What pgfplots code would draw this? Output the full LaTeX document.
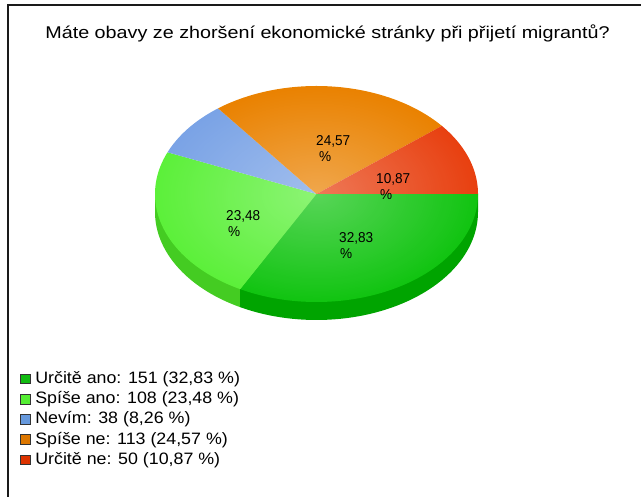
\documentclass[border=0pt]{standalone}
\usepackage{fontspec}
\setmainfont{Liberation Sans}
\newfontfamily\titlefont[FakeStretch=1.162]{Liberation Sans}
\newfontfamily\legfont[FakeStretch=1.08]{Liberation Sans}
\newfontfamily\labfont[FakeStretch=0.95]{Liberation Sans}
\usepackage{pgfplots}
\pgfplotsset{compat=1.18}
\usetikzlibrary{fadings}
\tikzfading[name=piefade, inner color=transparent!70, outer color=transparent!100]
\definecolor{caT}{HTML}{11C411}
\definecolor{cbT}{HTML}{5CF03A}
\definecolor{ccT}{HTML}{7AA3E6}
\definecolor{cdT}{HTML}{EA8200}
\definecolor{ceT}{HTML}{E84010}
\definecolor{caS}{HTML}{00A400}
\definecolor{cbS}{HTML}{44CC22}
\definecolor{lga}{HTML}{11BB11}
\definecolor{lgb}{HTML}{55EE33}
\definecolor{lgc}{HTML}{6699DD}
\definecolor{lgd}{HTML}{DD7700}
\definecolor{lge}{HTML}{DD3300}
\definecolor{framecol}{HTML}{1A1A1A}
\pgfplotsset{legsq/.style={legend image code/.code={\draw[##1, draw=black!80, line width=0.8bp] (0bp,-4.8bp) rectangle (10bp,4.8bp);}}}
% percentages of the five answers
\def\pA{32.83}\def\pB{23.48}\def\pC{8.26}\def\pD{24.57}\def\pE{10.87}
\pgfmathsetmacro\tA{0}
\pgfmathsetmacro\tB{-\pA*3.6}
\pgfmathsetmacro\tC{\tB-\pB*3.6}
\pgfmathsetmacro\tD{\tC-\pC*3.6}
\pgfmathsetmacro\tE{\tD-\pD*3.6}
\pgfmathsetmacro\tF{-360}
\def\cX{316.5}\def\cY{303}\def\rA{161.5}\def\rB{108}\def\dpth{18}
\pgfmathsetmacro\xA{\cX+\rA*cos(\tA)}\pgfmathsetmacro\yA{\cY+\rB*sin(\tA)}
\pgfmathsetmacro\xB{\cX+\rA*cos(\tB)}\pgfmathsetmacro\yB{\cY+\rB*sin(\tB)}
\pgfmathsetmacro\xH{\cX+\rA*cos(-180)}\pgfmathsetmacro\yH{\cY+\rB*sin(-180)}
\begin{document}
\begin{tikzpicture}
\begin{axis}[x=1bp, y=1bp, xmin=0, xmax=641, ymin=0, ymax=497,
  hide axis, clip=false, scale only axis,
  legend style={at={(axis cs:20,126)}, anchor=north west, draw=none, fill=none,
    inner sep=0pt, outer sep=0pt, row sep=4.2bp,
    font=\legfont\fontsize{16.5bp}{19bp}\selectfont,
    nodes={inner sep=0pt, text height=12.5bp, text depth=3.5bp},
    /tikz/every odd column/.append style={column sep=4.5bp}},
  legend cell align=left]
\coordinate (bbl) at (axis cs:0,0);
\coordinate (btr) at (axis cs:641,497);
% frame
\addplot[draw=framecol, line width=1.6bp, forget plot] coordinates {(645,492) (8,492) (8,-4)};
% sides
\addplot[draw=none, fill=cbS, domain=-180:\tB, samples=60, forget plot]
  ({\cX+\rA*cos(x)},{\cY-\dpth+\rB*sin(x)}) -- (axis cs:\xB,\yB) -- (axis cs:\cX,\cY) -- (axis cs:\xH,\yH) -- cycle;
\addplot[draw=none, fill=caS, domain=\tB:\tA, samples=80, forget plot]
  ({\cX+\rA*cos(x)},{\cY-\dpth+\rB*sin(x)}) -- (axis cs:\xA,\yA) -- (axis cs:\cX,\cY) -- (axis cs:\xB,\yB) -- cycle;
% tops
\addplot[draw=none, fill=caT, domain=\tB:\tA, samples=80, forget plot]
  ({\cX+\rA*cos(x)},{\cY+\rB*sin(x)}) -- (axis cs:\cX,\cY) -- cycle;
\addplot[draw=none, fill=cbT, domain=\tC:\tB, samples=60, forget plot]
  ({\cX+\rA*cos(x)},{\cY+\rB*sin(x)}) -- (axis cs:\cX,\cY) -- cycle;
\addplot[draw=none, fill=ccT, domain=\tD:\tC, samples=30, forget plot]
  ({\cX+\rA*cos(x)},{\cY+\rB*sin(x)}) -- (axis cs:\cX,\cY) -- cycle;
\addplot[draw=none, fill=cdT, domain=\tE:\tD, samples=60, forget plot]
  ({\cX+\rA*cos(x)},{\cY+\rB*sin(x)}) -- (axis cs:\cX,\cY) -- cycle;
\addplot[draw=none, fill=ceT, domain=\tF:\tE, samples=40, forget plot]
  ({\cX+\rA*cos(x)},{\cY+\rB*sin(x)}) -- (axis cs:\cX,\cY) -- cycle;
% light from the centre
\addplot[draw=none, fill=white, path fading=piefade, domain=0:360, samples=120, forget plot]
  ({\cX+\rA*cos(x)},{\cY+\rB*sin(x)}) -- cycle;
% labels
\tikzset{plab/.style={anchor=west, inner sep=0pt, font=\labfont\fontsize{14.3bp}{16bp}\selectfont}}
\node[plab] at (axis cs:339,258.3) {32,83};
\node[plab] at (axis cs:340,243.3) {\%};
\node[plab] at (axis cs:226,281) {23,48};
\node[plab] at (axis cs:228,265) {\%};
\node[plab] at (axis cs:316,356) {24,57};
\node[plab] at (axis cs:319,340.5) {\%};
\node[plab] at (axis cs:376,318) {10,87};
\node[plab] at (axis cs:380,302.5) {\%};
% title
\node[inner sep=0pt, font=\titlefont\fontsize{17bp}{20bp}\selectfont] at (axis cs:327.5,464) {Máte obavy ze zhoršení ekonomické stránky při přijetí migrantů?};
% legend
\addlegendimage{legsq, fill=lga}\addlegendentry{Určitě ano: 151 (32,83 \%)}
\addlegendimage{legsq, fill=lgb}\addlegendentry{Spíše ano: 108 (23,48 \%)}
\addlegendimage{legsq, fill=lgc}\addlegendentry{Nevím: 38 (8,26 \%)}
\addlegendimage{legsq, fill=lgd}\addlegendentry{Spíše ne: 113 (24,57 \%)}
\addlegendimage{legsq, fill=lge}\addlegendentry{Určitě ne: 50 (10,87 \%)}
\end{axis}
\pgfresetboundingbox
\useasboundingbox (bbl) rectangle (btr);
\end{tikzpicture}
\end{document}
